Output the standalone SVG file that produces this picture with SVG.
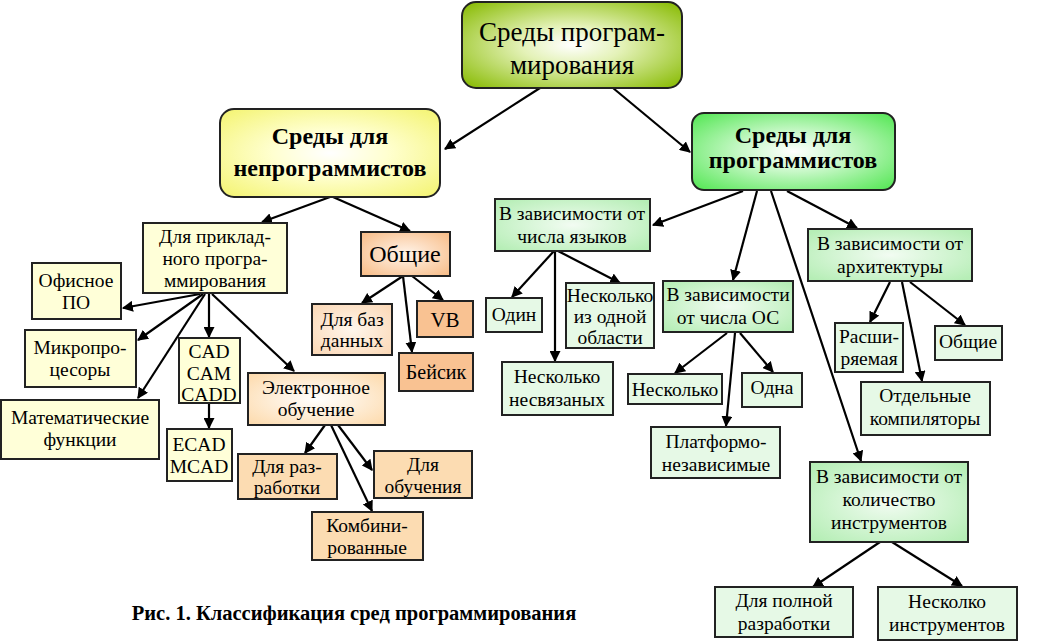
<svg xmlns="http://www.w3.org/2000/svg" width="1038" height="642" viewBox="0 0 1038 642">
<defs>
<radialGradient id="gRoot" cx="50%" cy="50%" r="65%"><stop offset="0" stop-color="#ffffff"/><stop offset="0.35" stop-color="#e4f2b8"/><stop offset="1" stop-color="#8fbf10"/></radialGradient>
<radialGradient id="gYel" cx="50%" cy="50%" r="65%"><stop offset="0" stop-color="#ffffff"/><stop offset="0.4" stop-color="#ffffd0"/><stop offset="1" stop-color="#f5f57a"/></radialGradient>
<radialGradient id="gGrn" cx="50%" cy="50%" r="65%"><stop offset="0" stop-color="#ffffff"/><stop offset="0.4" stop-color="#c8f8c8"/><stop offset="1" stop-color="#5ee85e"/></radialGradient>
<radialGradient id="gOr" cx="50%" cy="50%" r="65%"><stop offset="0" stop-color="#fff4ea"/><stop offset="1" stop-color="#f8bf8c"/></radialGradient>
<radialGradient id="gOrL" cx="50%" cy="50%" r="65%"><stop offset="0" stop-color="#fff6ec"/><stop offset="1" stop-color="#fbd9b8"/></radialGradient>
<radialGradient id="gEl" cx="50%" cy="50%" r="65%"><stop offset="0" stop-color="#ffffff"/><stop offset="1" stop-color="#fddcb0"/></radialGradient>
<radialGradient id="gG2" cx="50%" cy="50%" r="65%"><stop offset="0" stop-color="#f2fcf2"/><stop offset="1" stop-color="#b6eeb6"/></radialGradient>
<marker id="ah" viewBox="0 0 10 10" refX="9" refY="5" markerWidth="11" markerHeight="11" markerUnits="userSpaceOnUse" orient="auto"><path d="M0,0 L10,5 L0,10 z" fill="#000"/></marker>
</defs>
<style>
text{font-family:"Liberation Serif","Times New Roman","DejaVu Serif",serif;fill:#000;text-anchor:middle}
.t{font-size:19.5px}
.b{font-size:24px;font-weight:bold}
.r{font-size:27px}
.box{stroke:#222;stroke-width:2}
.cy{fill:#ffffd8}
.cg{fill:#e6f9e6}
.con line{stroke:#000;stroke-width:2.2;marker-end:url(#ah)}
</style>
<rect width="1038" height="642" fill="#fff"/>

<g class="con">
<line x1="540" y1="88" x2="445" y2="149"/>
<line x1="613" y1="88" x2="690" y2="152"/>
<line x1="330" y1="197" x2="262" y2="222"/>
<line x1="333" y1="197" x2="410" y2="231"/>
<line x1="200" y1="294" x2="123" y2="308"/>
<line x1="203" y1="294" x2="138" y2="340"/>
<line x1="205" y1="294" x2="138" y2="398"/>
<line x1="209" y1="294" x2="209" y2="337"/>
<line x1="212" y1="294" x2="294" y2="371"/>
<line x1="209" y1="403" x2="209" y2="428"/>
<line x1="403" y1="276" x2="362" y2="303"/>
<line x1="403" y1="276" x2="412" y2="352"/>
<line x1="412" y1="276" x2="443" y2="300"/>
<line x1="325" y1="425" x2="305" y2="453"/>
<line x1="331" y1="425" x2="372" y2="511"/>
<line x1="338" y1="425" x2="372" y2="470"/>
<line x1="743" y1="191" x2="653" y2="225"/>
<line x1="757" y1="191" x2="733" y2="280"/>
<line x1="771" y1="191" x2="861" y2="461"/>
<line x1="787" y1="191" x2="857" y2="228"/>
<line x1="554" y1="251" x2="512" y2="297"/>
<line x1="555" y1="251" x2="555" y2="361"/>
<line x1="558" y1="251" x2="620" y2="283"/>
<line x1="727" y1="333" x2="675" y2="373"/>
<line x1="735" y1="333" x2="726" y2="426"/>
<line x1="740" y1="333" x2="773" y2="372"/>
<line x1="890" y1="282" x2="870" y2="322"/>
<line x1="902" y1="282" x2="922" y2="381"/>
<line x1="910" y1="282" x2="965" y2="325"/>
<line x1="880" y1="542" x2="813" y2="587"/>
<line x1="892" y1="542" x2="962" y2="586"/>
</g>

<g id="root">
<rect class="box" x="462" y="2" width="220" height="86" rx="14" fill="url(#gRoot)"/>
<text class="r" x="572" y="41">Среды програм-</text>
<text class="r" x="572" y="74">мирования</text>
</g>

<g id="nonprog">
<rect class="box" x="220" y="109" width="220" height="88" rx="14" fill="url(#gYel)"/>
<text class="b" x="330" y="144">Среды для</text>
<text class="b" x="330" y="176">непрограммистов</text>
</g>

<g id="prog">
<rect class="box" x="692" y="113" width="203" height="77" rx="12" fill="url(#gGrn)"/>
<text class="b" x="793" y="143">Среды для</text>
<text class="b" x="793" y="168">программистов</text>
</g>

<g id="applied">
<rect class="box cy" x="143" y="223" width="144" height="70"/>
<text class="t" x="215" y="243">Для приклад-</text>
<text class="t" x="215" y="265">ного програ-</text>
<text class="t" x="215" y="287">ммирования</text>
</g>

<g id="office">
<rect class="box cy" x="32" y="263" width="89" height="56"/>
<text class="t" x="76" y="287">Офисное</text>
<text class="t" x="76" y="309">ПО</text>
</g>

<g id="micro">
<rect class="box cy" x="25" y="330" width="111" height="57"/>
<text class="t" x="80" y="354">Микропро-</text>
<text class="t" x="80" y="376">цесоры</text>
</g>

<g id="math">
<rect class="box cy" x="1" y="400" width="158" height="59"/>
<text class="t" x="80" y="424">Математические</text>
<text class="t" x="80" y="446">функции</text>
</g>

<g id="cad">
<rect class="box cy" x="179" y="338" width="61" height="65"/>
<text class="t" x="209" y="358">CAD</text>
<text class="t" x="209" y="380">CAM</text>
<text class="t" x="209" y="401">CADD</text>
</g>

<g id="ecad">
<rect class="box cy" x="167" y="429" width="65" height="52"/>
<text class="t" x="199" y="451">ECAD</text>
<text class="t" x="199" y="473">MCAD</text>
</g>

<g id="elearn">
<rect class="box" x="248" y="373" width="137" height="52" fill="url(#gEl)"/>
<text class="t" x="316" y="394">Электронное</text>
<text class="t" x="316" y="416">обучение</text>
</g>

<g id="fordev">
<rect class="box" x="238" y="454" width="99" height="45" fill="#fcdcb2"/>
<text class="t" x="287" y="473">Для  раз-</text>
<text class="t" x="287" y="494">работки</text>
</g>

<g id="forlearn">
<rect class="box" x="374" y="451" width="98" height="47" fill="#fcdcb2"/>
<text class="t" x="423" y="471">Для</text>
<text class="t" x="423" y="493">обучения</text>
</g>

<g id="combined">
<rect class="box" x="312" y="512" width="111" height="48" fill="#fcdcb2"/>
<text class="t" x="367" y="532">Комбини-</text>
<text class="t" x="367" y="554">рованные</text>
</g>

<g id="general">
<rect class="box" x="361" y="232" width="89" height="44" fill="url(#gOr)"/>
<text x="405" y="262" style="font-size:24px">Общие</text>
</g>

<g id="db">
<rect class="box" x="312" y="304" width="80" height="51" fill="url(#gOrL)"/>
<text class="t" x="352" y="326">Для баз</text>
<text class="t" x="352" y="347">данных</text>
</g>

<g id="vb">
<rect class="box" x="417" y="301" width="56" height="36" fill="#f9c292"/>
<text x="445" y="327" style="font-size:21px">VB</text>
</g>

<g id="basic">
<rect class="box" x="399" y="353" width="74" height="38" fill="#f9c292"/>
<text x="436" y="379" style="font-size:20px">Бейсик</text>
</g>

<g id="langs">
<rect class="box" x="495" y="199" width="155" height="52" fill="url(#gG2)"/>
<text class="t" x="572" y="220">В зависимости от</text>
<text class="t" x="572" y="243">числа языков</text>
</g>

<g id="one">
<rect class="box cg" x="486" y="298" width="56" height="34"/>
<text class="t" x="514" y="321">Один</text>
</g>

<g id="somearea">
<rect class="box cg" x="566" y="283" width="88" height="65"/>
<text class="t" x="610" y="302">Несколько</text>
<text class="t" x="610" y="323">из одной</text>
<text class="t" x="610" y="344">области</text>
</g>

<g id="unrelated">
<rect class="box cg" x="502" y="362" width="111" height="53"/>
<text class="t" x="557" y="383">Несколько</text>
<text class="t" x="557" y="406">несвязаных</text>
</g>

<g id="os">
<rect class="box" x="663" y="281" width="130" height="51" fill="url(#gG2)"/>
<text class="t" x="728" y="301">В зависимости</text>
<text class="t" x="728" y="324">от числа ОС</text>
</g>

<g id="several">
<rect class="box cg" x="628" y="374" width="94" height="30"/>
<text class="t" x="675" y="396">Несколько</text>
</g>

<g id="oneos">
<rect class="box cg" x="742" y="373" width="60" height="34"/>
<text class="t" x="772" y="394">Одна</text>
</g>

<g id="platform">
<rect class="box cg" x="651" y="427" width="129" height="51"/>
<text class="t" x="716" y="448">Платформо-</text>
<text class="t" x="716" y="471">независимые</text>
</g>

<g id="arch">
<rect class="box" x="808" y="229" width="164" height="52" fill="url(#gG2)"/>
<text class="t" x="890" y="250">В зависимости от</text>
<text class="t" x="890" y="273">архитектуры</text>
</g>

<g id="ext">
<rect class="box cg" x="835" y="323" width="68" height="49"/>
<text class="t" x="869" y="343">Расши-</text>
<text class="t" x="869" y="365">ряемая</text>
</g>

<g id="gen2">
<rect class="box cg" x="935" y="326" width="67" height="34"/>
<text class="t" x="968" y="348">Общие</text>
</g>

<g id="compilers">
<rect class="box cg" x="861" y="382" width="129" height="53"/>
<text class="t" x="925" y="402">Отдельные</text>
<text class="t" x="925" y="425">компиляторы</text>
</g>

<g id="tools">
<rect class="box" x="810" y="462" width="158" height="80" fill="url(#gG2)"/>
<text class="t" x="889" y="483">В зависимости от</text>
<text class="t" x="889" y="506">количество</text>
<text class="t" x="889" y="529">инструментов</text>
</g>

<g id="fulldev">
<rect class="box cg" x="715" y="587" width="138" height="50"/>
<text class="t" x="784" y="607">Для полной</text>
<text class="t" x="784" y="630">разработки</text>
</g>

<g id="severaltools">
<rect class="box cg" x="878" y="587" width="139" height="53"/>
<text class="t" x="947" y="608">Несколко</text>
<text class="t" x="947" y="631">инструментов</text>
</g>

<text x="354" y="620" style="font-size:20.5px;font-weight:bold">Рис. 1. Классификация сред программирования</text>
</svg>
